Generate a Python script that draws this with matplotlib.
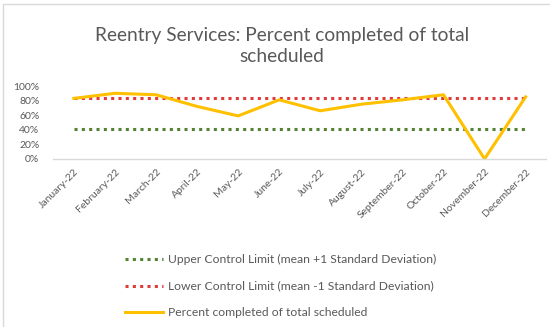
import matplotlib

matplotlib.use("Agg")

import matplotlib.pyplot as plt
from matplotlib.lines import Line2D
from matplotlib.patches import Rectangle
from matplotlib.ticker import PercentFormatter

plt.rcParams["font.family"] = ["Lato", "DejaVu Sans"]

months = [
    "January-22", "February-22", "March-22", "April-22", "May-22", "June-22",
    "July-22", "August-22", "September-22", "October-22", "November-22", "December-22",
]
percent_completed = [83, 90, 88, 72, 59, 81, 66, 75, 81, 88, 0, 85]
upper_limit = [41] * len(months)
lower_limit = [83] * len(months)

GRAY = "#595959"
DOTS = (0, (1, 1.4))

fig = plt.figure(figsize=(5.5, 3.27), dpi=100)
ax = fig.add_axes([0.097, 0.514, 0.896, 0.223])

x = list(range(len(months)))
ax.plot(x, upper_limit, color="#548235", linestyle=DOTS, linewidth=2.2)
ax.plot(x, lower_limit, color="#e03b3b", linestyle=DOTS, linewidth=2.2)
ax.plot(x, percent_completed, color="#ffc000", linewidth=2.2, solid_joinstyle="round")

ax.set_xlim(-0.5, len(months) - 0.5)
ax.set_ylim(0, 100)
ax.set_yticks([0, 20, 40, 60, 80, 100])
ax.yaxis.set_major_formatter(PercentFormatter(decimals=0))
ax.set_xticks(x)
ax.set_xticklabels(months, rotation=45, ha="right", rotation_mode="anchor")
ax.tick_params(axis="both", length=0, labelsize=7.5, colors=GRAY)
ax.tick_params(axis="x", pad=6)
ax.tick_params(axis="y", pad=10)
for side in ("top", "right", "left"):
    ax.spines[side].set_visible(False)
ax.spines["bottom"].set_color("#d9d9d9")
ax.spines["bottom"].set_linewidth(1)

fig.text(0.513, 0.86, "Reentry Services: Percent completed of total\nscheduled",
         ha="center", va="center", fontsize=13.8, color=GRAY, linespacing=1.3)

handles = [
    Line2D([], [], color="#548235", linestyle=DOTS, linewidth=2.2),
    Line2D([], [], color="#e03b3b", linestyle=DOTS, linewidth=2.2),
    Line2D([], [], color="#ffc000", linewidth=2.2),
]
labels = [
    "Upper Control Limit (mean +1 Standard Deviation)",
    "Lower Control Limit (mean -1 Standard Deviation)",
    "Percent completed of total scheduled",
]
fig.legend(handles, labels, loc="upper left", bbox_to_anchor=(0.218, 0.238),
           frameon=False, fontsize=8.7, labelcolor=GRAY, handlelength=3.2,
           handletextpad=0.4, labelspacing=1.3, borderaxespad=0)

fig.patches.append(Rectangle((3 / 550, -0.1), 1.2, (1 - 4 / 327) + 0.1,
                             transform=fig.transFigure, fill=False,
                             edgecolor="#d9d9d9", linewidth=1))

fig.savefig("out.png", dpi=100)
